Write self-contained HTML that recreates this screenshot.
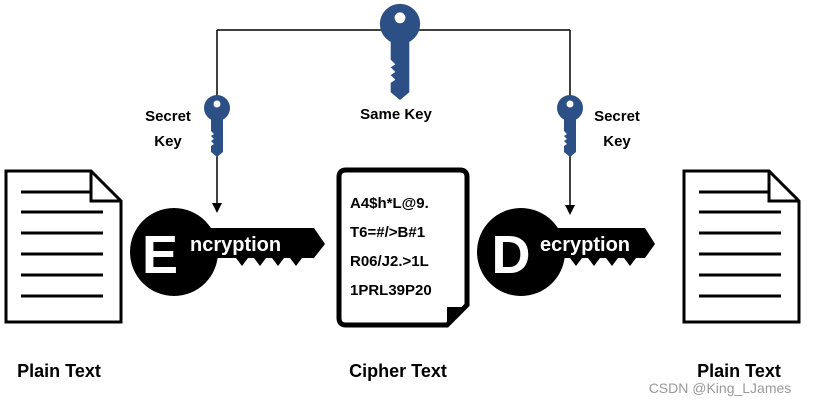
<!DOCTYPE html>
<html><head><meta charset="utf-8"><style>
html,body{margin:0;padding:0;background:#fff;}
svg{display:block;}
text{font-family:"Liberation Sans",Arial,sans-serif;font-weight:bold;}
</style></head><body>
<svg width="818" height="408" viewBox="0 0 818 408" xmlns="http://www.w3.org/2000/svg">
<defs>
<g id="skey">
<circle cx="0" cy="0" r="13" fill="#2c5085"/>
<path d="M-6,8 L6,8 L6,44 L0,49 L-6,44 L-6,38 L-3,36 L-6,33 L-3,31 L-6,28 L-3,26 L-6,23 Z" fill="#2c5085"/>
<circle cx="0" cy="-4" r="3.5" fill="#fff"/>
</g>
</defs>
<!-- connectors -->
<path d="M217,30 L570,30" stroke="#000" stroke-width="1.5" fill="none"/>
<path d="M217,30 L217,205" stroke="#000" stroke-width="1.5" fill="none"/>
<path d="M570,30 L570,207" stroke="#000" stroke-width="1.5" fill="none"/>
<path d="M212,203 L222,203 L217,213 Z" fill="#000"/>
<path d="M565,205 L575,205 L570,215 Z" fill="#000"/>
<!-- big key -->
<g transform="translate(400,24) scale(1.55)"><use href="#skey"/></g>
<use href="#skey" x="217" y="108"/>
<use href="#skey" x="570" y="108"/>
<text x="168" y="121" font-size="15" text-anchor="middle">Secret</text>
<text x="168" y="146" font-size="15" text-anchor="middle">Key</text>
<text x="396" y="119" font-size="15" text-anchor="middle">Same Key</text>
<text x="617" y="121" font-size="15" text-anchor="middle">Secret</text>
<text x="617" y="146" font-size="15" text-anchor="middle">Key</text>
<!-- left doc -->
<g stroke="#000" fill="none" stroke-width="3">
<path d="M6,171 L91,171 L121,201 L121,322 L6,322 Z" fill="#fff"/>
<path d="M91,171 L91,201 L121,201"/>
<path d="M21,192 L90,192 M21,212 L103,212 M21,233 L103,233 M21,254 L103,254 M21,275 L103,275 M21,296 L103,296"/>
</g>
<g stroke="#000" fill="none" stroke-width="3">
<path d="M684,171 L769,171 L799,201 L799,322 L684,322 Z" fill="#fff"/>
<path d="M769,171 L769,201 L799,201"/>
<path d="M699,192 L768,192 M699,212 L781,212 M699,233 L781,233 M699,254 L781,254 M699,275 L781,275 M699,296 L781,296"/>
</g>
<!-- encryption key -->
<circle cx="174" cy="252" r="44" fill="#000"/>
<path d="M200,228 L314,228 L325,244 L314,258 L302,258 L296,266 L290,258 L284,258 L278,266 L272,258 L266,258 L260,266 L254,258 L248,258 L242,266 L236,258 L200,258 Z" fill="#000"/>
<text x="160" y="273" font-size="54" fill="#fff" text-anchor="middle">E</text>
<text x="190" y="251" font-size="20" fill="#fff">ncryption</text>
<!-- decryption key -->
<circle cx="521" cy="252" r="44" fill="#000"/>
<path d="M548,228 L645,228 L655,244 L645,258 L636,258 L630,266 L624,258 L618,258 L612,266 L606,258 L600,258 L594,266 L588,258 L582,258 L576,266 L570,258 L548,258 Z" fill="#000"/>
<text x="511" y="273" font-size="54" fill="#fff" text-anchor="middle">D</text>
<text x="540" y="251" font-size="20" fill="#fff">ecryption</text>
<!-- cipher doc -->
<path d="M346,170 L460,170 Q467,170 467,177 L467,305 L447,325 L346,325 Q339,325 339,318 L339,177 Q339,170 346,170 Z" fill="#fff" stroke="#000" stroke-width="5"/>
<path d="M447,325 L447,307 L465,307 Z" fill="#000"/>
<g font-size="15" fill="#000">
<text x="350" y="208">A4$h*L@9.</text>
<text x="350" y="237">T6=#/&gt;B#1</text>
<text x="350" y="266">R06/J2.&gt;1L</text>
<text x="350" y="295">1PRL39P20</text>
</g>
<!-- labels -->
<text x="59" y="377" font-size="18" text-anchor="middle">Plain Text</text>
<text x="398" y="377" font-size="18" text-anchor="middle">Cipher Text</text>
<text x="739" y="377" font-size="18" text-anchor="middle">Plain Text</text>
<text x="720" y="393" font-size="14" fill="#999" style="font-weight:normal" text-anchor="middle">CSDN @King_LJames</text>
</svg>
</body></html>
